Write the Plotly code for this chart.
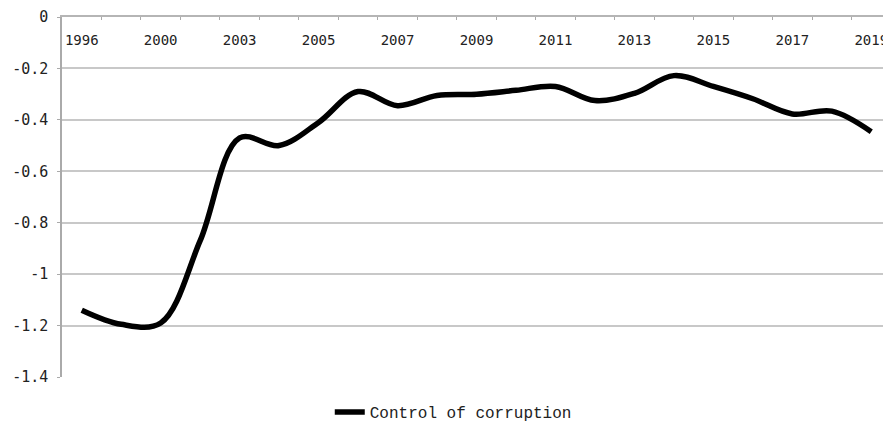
import plotly.graph_objects as go

years = ["1996", "1998", "2000", "2002", "2003", "2004", "2005", "2006", "2007",
         "2008", "2009", "2010", "2011", "2012", "2013", "2014", "2015", "2016",
         "2017", "2018", "2019"]
control_of_corruption = [-1.14, -1.195, -1.19, -0.87, -0.47, -0.50, -0.41, -0.29,
                         -0.345, -0.305, -0.30, -0.285, -0.27, -0.325, -0.297,
                         -0.228, -0.27, -0.318, -0.377, -0.366, -0.446]
x_labels = [y if i % 2 == 0 else "" for i, y in enumerate(years)]
y_ticks = [0, -0.2, -0.4, -0.6, -0.8, -1.0, -1.2, -1.4]
y_labels = ["0", "-0.2", "-0.4", "-0.6", "-0.8", "-1", "-1.2", "-1.4"]

fig = go.Figure()
fig.add_trace(go.Scatter(
    x=years, y=control_of_corruption, mode="lines",
    name="Control of corruption",
    line=dict(color="black", width=5.5, shape="spline", smoothing=1.0),
))

# page body has an 8px default margin, so the figure is offset by 8px
fig.update_layout(
    width=883, height=417,
    margin=dict(l=54, r=0, t=9, b=48, autoexpand=False),
    plot_bgcolor="white", paper_bgcolor="white",
    showlegend=True,
    legend=dict(orientation="h", x=0.323, xanchor="left", y=-0.05, yanchor="top",
                font=dict(family="Liberation Mono", size=16, color="#222"),
                itemwidth=30, tracegroupgap=0, bgcolor="rgba(0,0,0,0)",
                borderwidth=0),
    xaxis=dict(
        type="category", side="top", range=[-0.5, 20.5], automargin=False,
        tickmode="array", tickvals=years, ticktext=x_labels, tickangle=0,
        tickson="boundaries", ticks="inside", ticklen=3, tickcolor="#aaa",
        ticklabelposition="inside", ticklabelstandoff=15, ticklabeloverflow="allow",
        showline=True, linecolor="#b5b5b5", linewidth=1.5,
        showgrid=False, zeroline=False,
        tickfont=dict(family="DejaVu Sans Mono", size=14, color="#222"),
    ),
    yaxis=dict(
        range=[-1.4, 0], tickmode="array", tickvals=y_ticks, ticktext=y_labels,
        automargin=False,
        showgrid=True, gridcolor="#c8c8c8", gridwidth=2,
        showline=True, linecolor="#aaa", linewidth=1.5,
        ticks="outside", ticklen=3, tickcolor="#aaa", ticklabelstandoff=6,
        zeroline=False,
        tickfont=dict(family="DejaVu Sans Mono", size=15, color="#222"),
    ),
)

fig.write_html("out.html")
